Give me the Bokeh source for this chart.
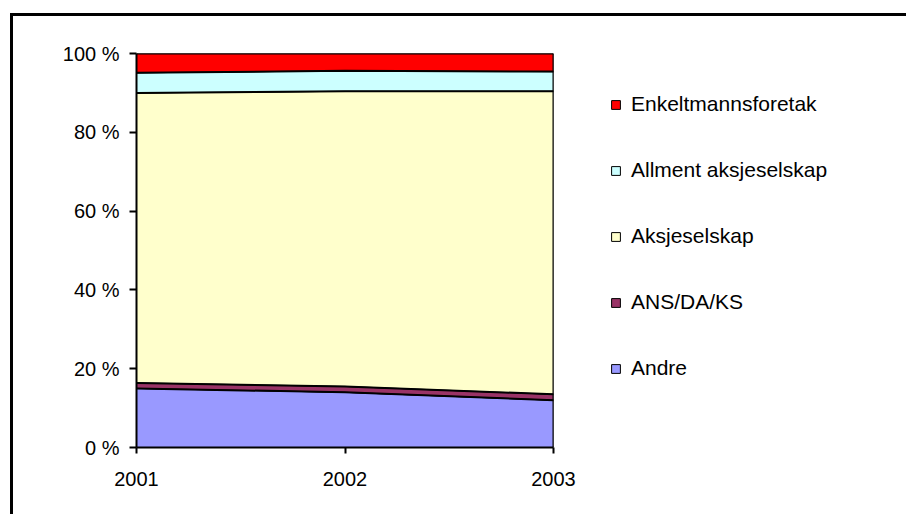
from bokeh.plotting import figure
from bokeh.models import Range1d, FixedTicker, Legend, LegendItem, Span
from bokeh.embed import file_html
from bokeh.resources import INLINE

# Share of companies by legal form (percent of total), 2001-2003
years = [2001, 2002, 2003]
andre = [15.0, 14.0, 12.0]
ans_da_ks = [1.4, 1.5, 1.5]
aksjeselskap = [73.6, 74.9, 76.9]
allment_aksjeselskap = [5.1, 5.2, 5.0]
enkeltmannsforetak = [4.9, 4.4, 4.6]

series_names = ["Andre", "ANS/DA/KS", "Aksjeselskap", "Allment aksjeselskap", "Enkeltmannsforetak"]
series_values = [andre, ans_da_ks, aksjeselskap, allment_aksjeselskap, enkeltmannsforetak]
series_colors = ["#9999FF", "#993366", "#FFFFCC", "#CCFFFF", "#FF0000"]

y_ticks = [0, 20, 40, 60, 80, 100]
y_tick_labels = ["0 %", "20 %", "40 %", "60 %", "80 %", "100 %"]
x_tick_labels = ["2001", "2002", "2003"]

FONT = "Liberation Sans"

# the figure sits inside a framed chart area (left/top border via CSS)
p = figure(frame_width=417, frame_height=394, output_backend="svg", toolbar_location=None,
           x_range=Range1d(2001, 2003), y_range=Range1d(0, 100),
           min_border_left=123, min_border_right=0,
           min_border_top=37, min_border_bottom=67)
p.margin = (13, 0, 0, 10)
p.styles = {"border-left": "3px solid black", "border-top": "3px solid black"}
p.outline_line_color = None
p.xgrid.visible = False
p.ygrid.visible = False
p.background_fill_color = "white"
p.border_fill_color = "white"

# stacked areas: filled polygon between lower and upper bound, then a heavier
# boundary line along the upper edge
areas = []
base = [0.0] * len(years)
for name, vals, color in zip(series_names, series_values, series_colors):
    top = [b + v for b, v in zip(base, vals)]
    xs = list(years) + list(reversed(years))
    ys = top + list(reversed(base))
    r = p.patch(xs, ys, fill_color=color, line_color="black", line_width=1)
    areas.append((name, r))
    base = top
base = [0.0] * len(years)
for vals in series_values:
    base = [b + v for b, v in zip(base, vals)]
    p.line(years, base, line_color="black", line_width=2)
p.add_layout(Span(location=years[-1], dimension="height", line_color="black", line_width=2))

# axes
p.yaxis.ticker = FixedTicker(ticks=y_ticks)
p.yaxis.major_label_overrides = {t: lab for t, lab in zip(y_ticks, y_tick_labels)}
p.xaxis.ticker = FixedTicker(ticks=years)
p.xaxis.major_label_overrides = {y: lab for y, lab in zip(years, x_tick_labels)}
for ax in (p.xaxis[0], p.yaxis[0]):
    ax.axis_line_color = "black"
    ax.axis_line_width = 2
    ax.major_tick_line_color = "black"
    ax.major_tick_line_width = 2
    ax.major_tick_in = 0
    ax.minor_tick_line_color = None
    ax.major_label_text_font = FONT
    ax.major_label_text_font_size = "20px"
    ax.major_label_text_color = "black"
p.xaxis.major_tick_out = 6
p.yaxis.major_tick_out = 7
p.xaxis.major_label_standoff = 18
p.yaxis.major_label_standoff = 10

# legend to the right of the plot area, top entry first
items = [LegendItem(label=name, renderers=[r]) for name, r in reversed(areas)]
legend = Legend(items=items, location=(57, 67),
                glyph_width=11, glyph_height=11, label_height=20,
                spacing=42, padding=0, margin=0, label_standoff=10,
                border_line_color=None, background_fill_alpha=0,
                label_text_font=FONT, label_text_font_size="21px",
                label_text_color="black")
p.add_layout(legend, "right")

open("out.html", "w").write(file_html(p, INLINE))
